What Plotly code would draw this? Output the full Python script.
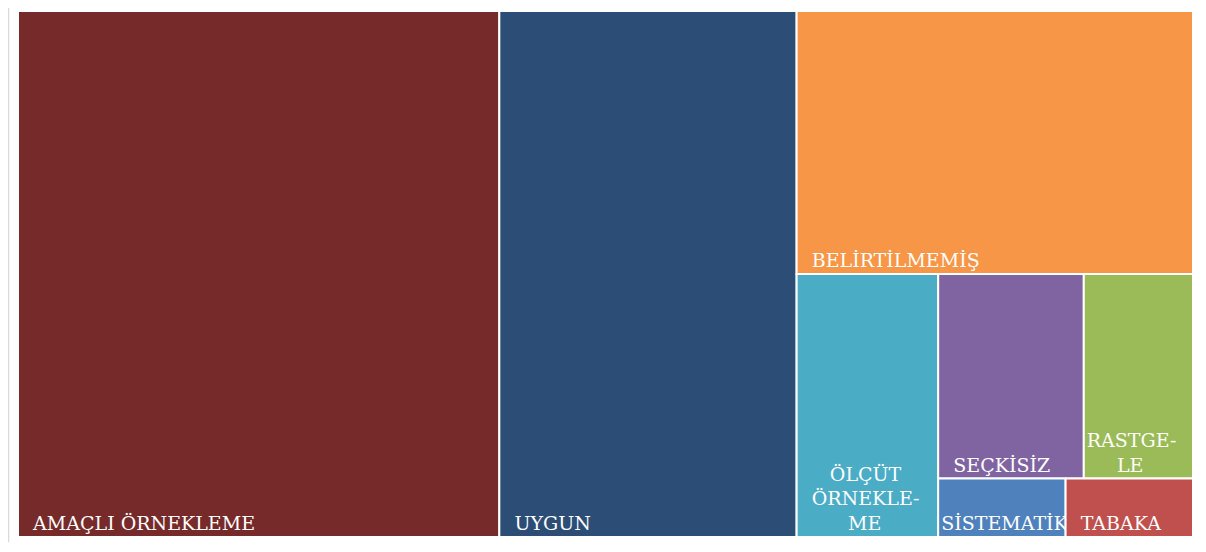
import plotly.graph_objects as go

# sampling methods (study counts read from tile areas)
labels = ["AMAÇLI ÖRNEKLEME", "UYGUN", "BELİRTİLMEMİŞ", "ÖLÇÜT ÖRNEKLEME",
          "SEÇKİSİZ", "RASTGELE", "SİSTEMATİK", "TABAKA"]
# tile captions as shown (wrapped like the original)
captions = ["  AMAÇLI ÖRNEKLEME", "  UYGUN", "  BELİRTİLMEMİŞ",
            "     ÖLÇÜT<br>  ÖRNEKLE-<br>        ME",
            "  SEÇKİSİZ", "RASTGE-<br>     LE", "SİSTEMATİK", "  TABAKA"]
values = [34, 21, 14, 5, 4, 3, 1, 1]
colors = ["#772A2A", "#2C4D75", "#F79646", "#4BACC6",
          "#8064A2", "#9BBB59", "#4F81BD", "#C0504D"]

fig = go.Figure()

fig.add_trace(
    go.Treemap(
        labels=labels,
        parents=[""] * len(labels),
        values=values,
        text=captions,
        sort=True,
        marker=dict(colors=colors, line=dict(color="white", width=2),
                    pad=dict(t=0, l=0, r=0, b=0)),
        tiling=dict(packing="squarify", squarifyratio=1, pad=0),
        pathbar=dict(visible=False),
        textposition="bottom left",
        textfont=dict(family="DejaVu Serif", size=19, color="white"),
        texttemplate="%{text}",
        hoverinfo="label+value",
    )
)

# thin frame line on the left edge
fig.add_shape(type="line", xref="paper", yref="paper",
              x0=-0.0083, x1=-0.0083, y0=-0.01, y1=1.02,
              line=dict(color="#D9D9D9", width=2))

# page body adds 8px offset, margins compensate for it
fig.update_layout(
    width=1206,
    height=552,
    margin=dict(l=10, r=21, t=3, b=23),
    paper_bgcolor="white",
    uniformtext=dict(minsize=19, mode="show"),
)

fig.write_html("out.html")
